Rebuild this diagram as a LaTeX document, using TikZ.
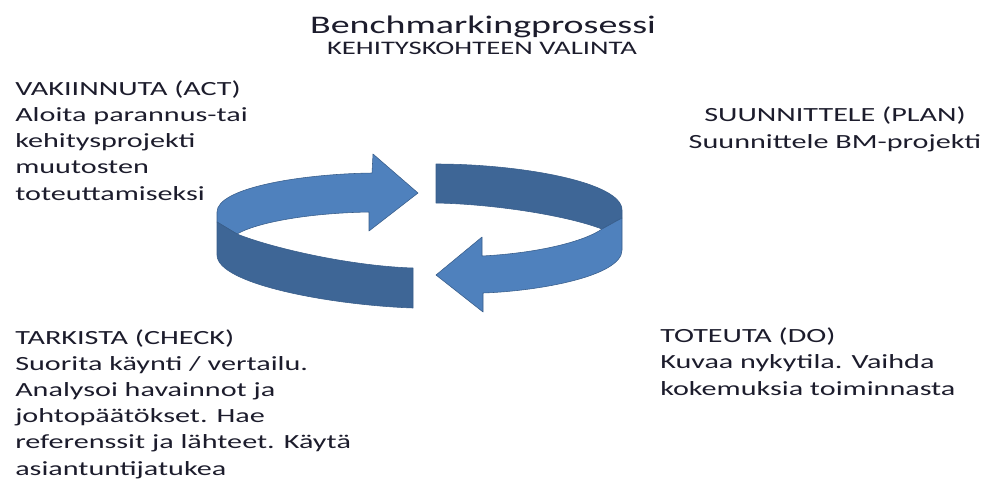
\documentclass[tikz,border=0pt]{standalone}
\usepackage{fontspec}
\usepackage{xcolor}
\setmainfont{Carlito}
\newfontfamily\widefont[FakeStretch=1.5]{Carlito}
\definecolor{ringlight}{HTML}{4F81BD}
\definecolor{ringdark}{HTML}{3E6696}
\definecolor{ringedge}{HTML}{385D8A}
\definecolor{textcol}{HTML}{1C1C2C}

\begin{document}
\begin{tikzpicture}[x=0.025cm, y=-0.025cm,
    ring/.style={draw=ringedge, line width=0.4pt, line join=round}]
    \useasboundingbox (0,0) rectangle (984,482);
    % upper arrow, inner face
    \fill[ring, fill=ringlight] (217,212) .. controls (217,188) and (300,174) .. (372,173)
        -- (373,154) -- (418,193) -- (369,231) -- (369,212)
        .. controls (310,213) and (258,222) .. (237,234) -- (217,222) -- cycle;
    % upper arrow, outer face
    \fill[ring, fill=ringdark] (217,222) -- (237,234)
        .. controls (272,248) and (350,266) .. (413,268) -- (413,308)
        .. controls (330,305) and (217,284) .. (217,255) -- cycle;
    % lower arrow, outer face
    \fill[ring, fill=ringdark] (436,164) .. controls (520,164) and (622,182) .. (622,210)
        -- (622,218) -- (602,229)
        .. controls (565,215) and (492,204) .. (436,203) -- cycle;
    % lower arrow, inner face
    \fill[ring, fill=ringlight] (622,218) -- (622,250)
        .. controls (622,276) and (540,291) .. (483,293)
        -- (483,312) -- (436,275) -- (482,237) -- (482,256)
        .. controls (540,253) and (585,241) .. (602,229) -- cycle;
    % texts, anchored at the baseline of their last line
    \begin{scope}[every node/.style={text=textcol, inner sep=0pt,
        font=\widefont\fontsize{14.3}{18.5}\selectfont}]
    \node[anchor=base, font=\widefont\fontsize{18}{22}\selectfont] (title) at (483,33) {Benchmarkingprosessi};
    \node[anchor=base, font=\widefont\fontsize{13.6}{16}\selectfont] (subtitle) at (482,54) {KEHITYSKOHTEEN VALINTA};
    \node[anchor=base west, align=left] (act) at (15,200) {VAKIINNUTA (ACT)\\Aloita parannus-tai\\kehitysprojekti\\muutosten\\toteuttamiseksi};
    \node[anchor=base, align=center] (plan) at (835,148) {SUUNNITTELE (PLAN)\\Suunnittele BM-projekti};
    \node[anchor=base west, align=left] (check) at (15,475) {TARKISTA (CHECK)\\Suorita käynti / vertailu.\\Analysoi havainnot ja\\johtopäätökset. Hae\\referenssit ja lähteet. Käytä\\asiantuntijatukea};
    \node[anchor=base west, align=left] (do) at (660,395) {TOTEUTA (DO)\\Kuvaa nykytila. Vaihda\\kokemuksia toiminnasta};
    \end{scope}
\end{tikzpicture}
\end{document}
